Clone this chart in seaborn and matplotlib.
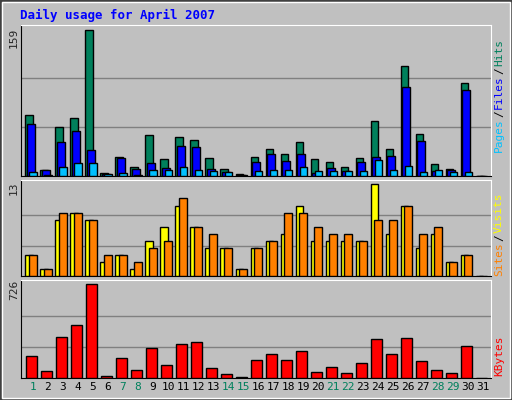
import matplotlib
matplotlib.use("Agg")
import matplotlib.pyplot as plt
import seaborn as sns
from matplotlib.patches import Rectangle

sns.set_style("white")
plt.rcParams['font.family'] = ['DejaVu Sans Mono', 'DejaVu Sans']

days = list(range(1, 32))
hits = [66,7,53,63,159,3,21,10,45,19,42,39,20,8,2,21,29,24,37,18,15,10,20,60,29,119,46,13,8,101,0]
files = [57,7,37,49,28,2,20,8,14,9,33,31,8,4,1,15,24,16,24,3,9,5,15,21,22,97,38,5,6,93,0]
pages = [4,1,10,14,14,2,3,1,7,7,10,7,5,4,1,5,6,6,10,5,5,5,5,17,6,11,4,6,4,4,0]
visits = [3,1,8,9,8,2,3,1,5,7,10,7,4,4,1,4,5,6,10,5,5,5,5,13,6,10,4,6,2,3,0]
sites = [3,1,9,9,8,3,3,2,4,5,11,7,6,4,1,4,5,9,9,7,6,6,5,8,8,10,6,7,2,3,0]
kbytes = [168,56,319,407,726,16,152,64,231,104,263,279,80,32,8,136,184,136,207,48,88,40,120,303,184,311,128,64,40,247,0]
weekends = [1,7,8,14,15,21,22,28,29]

BG = "#C0C0C0"
W, H = 512, 400
fig = plt.figure(figsize=(W/100, H/100), dpi=100, facecolor=BG)
fig.patches.append(Rectangle((0, 0), 1, 1, transform=fig.transFigure, fill=False,
                             edgecolor="#404040", lw=2))
fig.patches.append(Rectangle((2/W, 2/H), 1-4/W, 1-4/H, transform=fig.transFigure, fill=False,
                             edgecolor="white", lw=1))

def mkax(top, bottom):
    ax = fig.add_axes([20.7/W, 1-bottom/H, (490.7-20.7)/W, (bottom-top)/H])
    ax.set_facecolor(BG)
    for s in ["left", "bottom"]:
        ax.spines[s].set_color("black")
    for s in ["top", "right"]:
        ax.spines[s].set_color("white")
    ax.set_xlim(0.19, 31.5)
    ax.set_xticks([]); ax.set_yticks([])
    return ax

def bars(ax, vals, off, width, color):
    ax.bar([d + off for d in days], vals, width=width, align="edge", color=color,
           edgecolor="black", linewidth=1, zorder=3)

ax1 = mkax(24.7, 176)
ax1.set_ylim(0, 164.3)
for g in [53, 106]:
    ax1.axhline(g, color="#808080", lw=1, zorder=1)
bars(ax1, hits, -0.5, 0.49, "#00805C")
bars(ax1, files, -0.39, 0.51, "#0000FF")
bars(ax1, pages, -0.23, 0.49, "#00C0FF")

ax2 = mkax(180.3, 276.3)
ax2.set_ylim(0, 13.56)
for g in [4.33, 8.67]:
    ax2.axhline(g, color="#808080", lw=1, zorder=1)
bars(ax2, visits, -0.5, 0.5, "#FFFF00")
bars(ax2, sites, -0.28, 0.54, "#FF8000")

ax3 = mkax(280.3, 378)
ax3.set_ylim(0, 757)
for g in [242, 484]:
    ax3.axhline(g, color="#808080", lw=1, zorder=1)
bars(ax3, kbytes, -0.45, 0.71, "#FF0000")
ax3.set_xticks(days)
ax3.set_xticklabels([str(d) for d in days], fontsize=8)
ax3.tick_params(axis="x", length=0, pad=3)
for lbl, d in zip(ax3.get_xticklabels(), days):
    lbl.set_color("#00805C" if d in weekends else "black")

fig.text(20/W, 1-15/H, "Daily usage for April 2007", color="#0000FF", fontsize=9,
         fontweight="bold", va="center", ha="left")
fig.text(14/W, 1-38/H, "159", rotation=90, fontsize=8, ha="center", va="center")
fig.text(14/W, 1-188/H, "13", rotation=90, fontsize=8, ha="center", va="center")
fig.text(14/W, 1-290/H, "726", rotation=90, fontsize=8, ha="center", va="center")

def rlabel(y, parts):
    # parts listed bottom to top
    x = 499/W
    yy = y
    for txt, col in parts:
        fig.text(x, 1-yy/H, txt, rotation=90, fontsize=8, color=col,
                 ha="center", va="bottom")
        yy -= len(txt) * 6.7 + 1.5
rlabel(152, [("Pages", "#00C0FF"), ("/", "black"), ("Files", "#0000FF"), ("/", "black"), ("Hits", "#00805C")])
rlabel(276, [("Sites", "#FF8000"), ("/", "black"), ("Visits", "#FFFF00")])
rlabel(376, [("KBytes", "#FF0000")])

fig.savefig("out.png", dpi=100, facecolor=BG)
